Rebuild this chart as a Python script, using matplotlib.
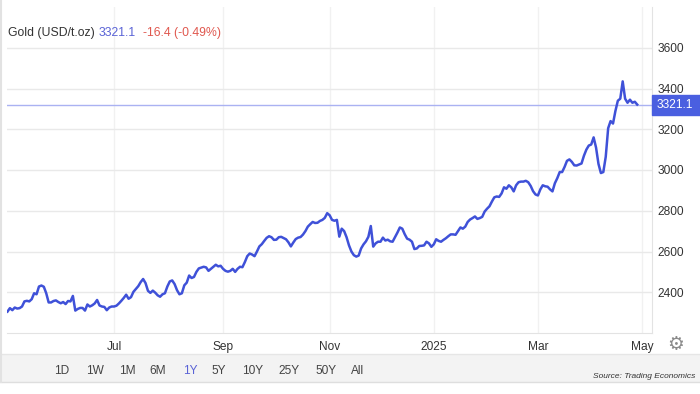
import numpy as np
import pandas as pd
import matplotlib
matplotlib.use("Agg")
import matplotlib.pyplot as plt
import matplotlib.transforms as mtransforms
from matplotlib.patches import Rectangle

plt.rcParams["font.family"] = ["Liberation Sans", "DejaVu Sans"]

# daily closes, gold USD/t.oz, one per business day 2024-04-30 .. 2025-04-29
dates = pd.bdate_range("2024-04-30", "2025-04-29")
prices = [
    2305, 2322, 2312, 2325,
    2320, 2322, 2330, 2355, 2358,
    2355, 2366, 2395, 2390, 2428,
    2433, 2427, 2395, 2350, 2350,
    2357, 2360, 2352, 2346, 2352,
    2342, 2357, 2355, 2382, 2310,
    2318, 2323, 2323, 2310, 2340,
    2330, 2336, 2345, 2362, 2335,
    2330, 2328, 2312, 2325, 2330,
    2330, 2334, 2345, 2358, 2372,
    2388, 2368, 2376, 2402, 2416,
    2430, 2450, 2465, 2445, 2407,
    2397, 2408, 2398, 2385, 2378,
    2390, 2395, 2428, 2453, 2458,
    2440, 2410, 2390, 2395, 2434,
    2447, 2482, 2470, 2475, 2500,
    2517, 2521, 2525, 2522, 2505,
    2515, 2525, 2535, 2527, 2530,
    2515, 2505, 2501, 2505, 2515,
    2500, 2515, 2525, 2523, 2548,
    2577, 2590, 2585, 2577, 2600,
    2625, 2636, 2652, 2667, 2675,
    2670, 2657, 2658, 2670, 2672,
    2666, 2660, 2645, 2625, 2644,
    2661, 2668, 2671, 2683, 2700,
    2722, 2734, 2745, 2740, 2741,
    2750, 2755, 2765, 2788, 2778,
    2755, 2751, 2755, 2673, 2712,
    2700, 2670, 2630, 2600, 2582,
    2575, 2580, 2615, 2635, 2650,
    2672, 2725, 2624, 2640, 2648,
    2648, 2668, 2654, 2658, 2650,
    2648, 2670, 2693, 2718, 2712,
    2685, 2663, 2658, 2648, 2612,
    2615, 2627, 2628, 2630, 2648,
    2640, 2623, 2635, 2660, 2652,
    2648, 2657, 2665, 2675, 2684,
    2684, 2682, 2700, 2718, 2712,
    2722, 2745, 2757, 2764, 2772,
    2760, 2764, 2770, 2796, 2810,
    2822, 2845, 2866, 2870, 2868,
    2885, 2915, 2908, 2925, 2915,
    2895, 2925, 2940, 2943, 2943,
    2947, 2940, 2922, 2896, 2880,
    2875, 2905, 2925, 2920, 2918,
    2905, 2895, 2935, 2960, 2990,
    2990, 3015, 3045, 3052, 3040,
    3023, 3022, 3027, 3032, 3070,
    3100, 3120, 3125, 3160, 3110,
    3030, 2985, 2990, 3065, 3205,
    3240, 3228, 3290, 3340, 3350,
    3435, 3350, 3330, 3345, 3330,
    3335, 3321.1,
]
last_price = 3321.1
change = "-16.4 (-0.49%)"

tick_months = ["2024-07-01", "2024-09-01", "2024-11-01", "2025-01-01", "2025-03-01", "2025-05-01"]
tick_labels = ["Jul", "Sep", "Nov", "2025", "Mar", "May"]
y_ticks = [2400, 2600, 2800, 3000, 3200, 3400, 3600]
ranges = ["1D", "1W", "1M", "6M", "1Y", "5Y", "10Y", "25Y", "50Y", "All"]
range_x = [62, 95, 127, 158, 190, 219, 253, 289, 326, 358]

LINE = "#3f51d8"
GRID = "#e9e9e9"
W, H = 700, 394

# trading-day axis, like the source chart
start = np.datetime64(dates[0].date())
xs = np.busday_count(start, dates.values.astype("datetime64[D]"))
tick_x = np.busday_count(start, np.array(tick_months, dtype="datetime64[D]"))

fig = plt.figure(figsize=(7, 3.94), dpi=100)
ax = fig.add_axes([7 / W, 1 - 333 / H, (652 - 7) / W, (333 - 7) / H])

ax.plot(xs, prices, color=LINE, lw=1.8, solid_joinstyle="round", zorder=3)
ax.axhline(last_price, color="#aab2f2", lw=1, zorder=2)

ax.set_xlim(-0.2, 266.1)
ax.set_ylim(2200, 3800)
ax.set_xticks(tick_x)
ax.set_xticklabels(tick_labels)
ax.set_yticks(y_ticks)
ax.yaxis.tick_right()
ax.tick_params(axis="both", length=0, labelsize=8.6, colors="#333333")
ax.tick_params(axis="x", pad=6)
ax.tick_params(axis="y", pad=4)
ax.grid(axis="y", color=GRID, lw=1)
ax.grid(axis="x", color="#f1f1f1", lw=1)
for s in ["top", "left"]:
    ax.spines[s].set_visible(False)
ax.spines["right"].set_color("#e3e3e3")
ax.spines["bottom"].set_color("#e3e3e3")

# last price tag on the right axis
tr = mtransforms.blended_transform_factory(ax.transAxes, ax.transData)
box_w = 48 / 645
box_h = 20 * 1600 / 326
ax.add_patch(Rectangle((1.0, last_price - box_h / 2), box_w, box_h, transform=tr,
                       color="#4a5fe0", clip_on=False, zorder=4))
ax.text(1.0 + 5 / 645, last_price, f"{last_price:.1f}", transform=tr, color="white",
        fontsize=8.6, va="center", ha="left", zorder=5)

# header
fig.text(8 / W, 1 - 33 / H, "Gold (USD/t.oz)", fontsize=8.8, color="#333333", va="center")
fig.text(99 / W, 1 - 33 / H, f"{last_price:.1f}", fontsize=8.8, color="#5a63d6", va="center")
fig.text(143 / W, 1 - 33 / H, change, fontsize=8.8, color="#e0584f", va="center")

# gear icon
fig.text(676 / W, 1 - 345 / H, "\u2699", fontsize=13.5, color="#8a8a8a", ha="center", va="center",
         family="DejaVu Sans")

# range selector bar
fig.patches.append(Rectangle((0, 1 - 382 / H), 1, 28 / H, transform=fig.transFigure,
                             facecolor="#f3f3f3", edgecolor="none", zorder=0))
fig.add_artist(plt.Line2D([0, 1], [1 - 354 / H] * 2, color="#e6e6e6", lw=1))
fig.add_artist(plt.Line2D([0, 1], [1 - 382 / H] * 2, color="#dedede", lw=1))
fig.add_artist(plt.Line2D([1 / W] * 2, [1 - 382 / H, 1], color="#e2e2e2", lw=1.5))
for r, rx in zip(ranges, range_x):
    fig.text(rx / W, 1 - 371 / H, r, fontsize=8.6, ha="center", va="center",
             color="#5a63d6" if r == "1Y" else "#444444")
fig.text(695 / W, 1 - 377 / H, "Source: Trading Economics", fontsize=6, style="italic",
         color="#333333", ha="right", va="center")

fig.savefig("out.png", dpi=100)
